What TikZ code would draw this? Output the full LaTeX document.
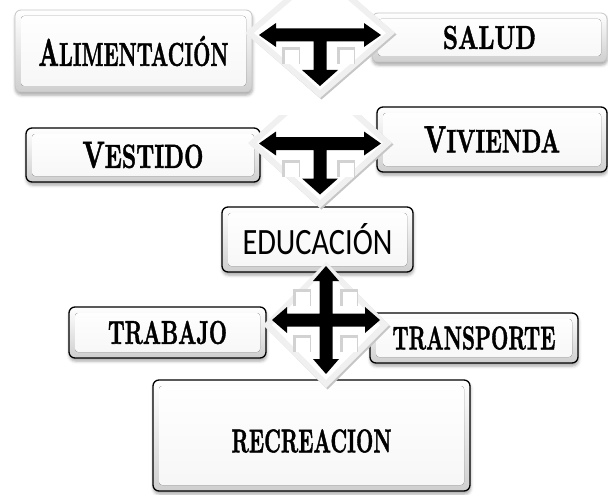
\documentclass[tikz,border=0pt]{standalone}
\usepackage{fontspec}
\newfontfamily\carlito{Carlito}
\newfontfamily\decofont{Latin Modern Roman}[BoldFeatures={FakeBold=1.6}]
\usepackage{graphicx}
\usetikzlibrary{shadows.blur}
\newcommand\deco[3]{\resizebox{#1pt}{#2pt}{\decofont\bfseries #3}}
\newcommand\diamondbg[2]{%
  \fill[gray!45] (-#1+2,1.5) -- (1.5,-#2+2) -- (#1+1.5,1.5) -- (1.5,#2+1.5) -- cycle;
  \fill[gray!12] (-#1,0) -- (0,-#2) -- (#1,0) -- (0,#2) -- cycle;
  \fill[white] (-#1+9,0) -- (0,-#2+8) -- (#1-9,0) -- (0,#2-8) -- cycle;}
\newcommand\sqmark[2]{%
  \fill[gray!35] (#1,#2) rectangle ++(18,17);
  \fill[white] (#1+3,#2+3) rectangle ++(13.5,14);}
\newcommand\tarrow{%
  \fill[black] (-61,0) -- (-44,-12) -- (-44,-6.5) -- (44,-6.5) -- (44,-12) -- (61,0)
    -- (44,12) -- (44,6.5) -- (6.5,6.5) -- (6.5,35) -- (18,35) -- (0,51) -- (-18,35)
    -- (-6.5,35) -- (-6.5,6.5) -- (-44,6.5) -- (-44,12) -- cycle;}
\newcommand\crossarrow{%
  \fill[black] (-54,0) -- (-39,-13) -- (-39,-6.5) -- (-6.5,-6.5) -- (-6.5,-39) -- (-13,-39)
    -- (0,-54) -- (13,-39) -- (6.5,-39) -- (6.5,-6.5) -- (39,-6.5) -- (39,-13) -- (54,0)
    -- (39,13) -- (39,6.5) -- (6.5,6.5) -- (6.5,39) -- (13,39) -- (0,54) -- (-13,39)
    -- (-6.5,39) -- (-6.5,6.5) -- (-39,6.5) -- (-39,13) -- cycle;}
\tikzset{
  bevelbox/.style={rounded corners=6pt, draw=black, line width=1.3pt, inner sep=0pt,
    top color=white, bottom color=gray!38,
    blur shadow={shadow xshift=0.5pt, shadow yshift=-3pt, shadow blur radius=3pt, shadow opacity=35},
    path picture={\fill[top color=white, bottom color=gray!7, rounded corners=3pt]
      ([shift={(6pt,-6pt)}]path picture bounding box.north west) rectangle
      ([shift={(-6pt,6pt)}]path picture bounding box.south east);}},
  greybox/.style={bevelbox, draw=gray!45, line width=0.8pt}
}
\begin{document}
\begin{tikzpicture}[x=1pt,y=-1pt]
\useasboundingbox (0,0) rectangle (608,495);
\clip (0,0) rectangle (608,495);
% boxes
\node[greybox, minimum width=237pt, minimum height=82pt] (ali) at (133.5,51)
  {\deco{190}{30}{A\scalebox{0.85}{LIMENTACIÓN}}};
\node[greybox, minimum width=235pt, minimum height=49pt] (sal) at (489.5,37.5)
  {\deco{93}{23}{SALUD}};
\node[bevelbox, minimum width=234pt, minimum height=54pt] (ves) at (143,155)
  {\deco{121}{26}{V\scalebox{0.88}{ESTIDO}}};
\node[bevelbox, minimum width=230pt, minimum height=65pt] (viv) at (492,139.5)
  {\deco{136}{26}{V\scalebox{0.86}{IVIENDA}}};
\node[bevelbox, minimum width=191pt, minimum height=65pt] (edu) at (317.5,239.5)
  {\resizebox{150pt}{31pt}{\carlito EDUCACIÓN}};
\node[bevelbox, minimum width=197pt, minimum height=51pt] (tra) at (167.5,332.5)
  {\deco{119}{23}{TRABAJO}};
\node[bevelbox, minimum width=208pt, minimum height=50pt] (trn) at (474,338)
  {\deco{163}{23}{TRANSPORTE}};
\node[bevelbox, minimum width=317pt, minimum height=111pt] (rec) at (311.5,435.5)
  {\rule{0pt}{34pt}\deco{160}{23}{RECREACION}};
% junction 1
\coordinate (j1) at (320,33);
\begin{scope}[shift={(j1)}] \diamondbg{75}{65} \end{scope}
\sqmark{282}{47} \sqmark{337}{47}
\begin{scope}[shift={(320,35)}] \tarrow \end{scope}
% junction 2
\coordinate (j2) at (320,143);
\begin{scope}
  \clip (220,115) rectangle (420,225);
  \begin{scope}[shift={(j2)}] \diamondbg{72}{65} \end{scope}
\end{scope}
\sqmark{282}{160} \sqmark{337}{160}
\begin{scope}[shift={(320,143.5)}] \tarrow \end{scope}
% junction 3
\coordinate (j3) at (326,325);
\begin{scope}[shift={(j3)}] \diamondbg{63}{63} \end{scope}
\sqmark{293}{289} \sqmark{340}{289} \sqmark{293}{335} \sqmark{340}{335}
\begin{scope}[shift={(326,320)}] \crossarrow \end{scope}
\end{tikzpicture}
\end{document}
